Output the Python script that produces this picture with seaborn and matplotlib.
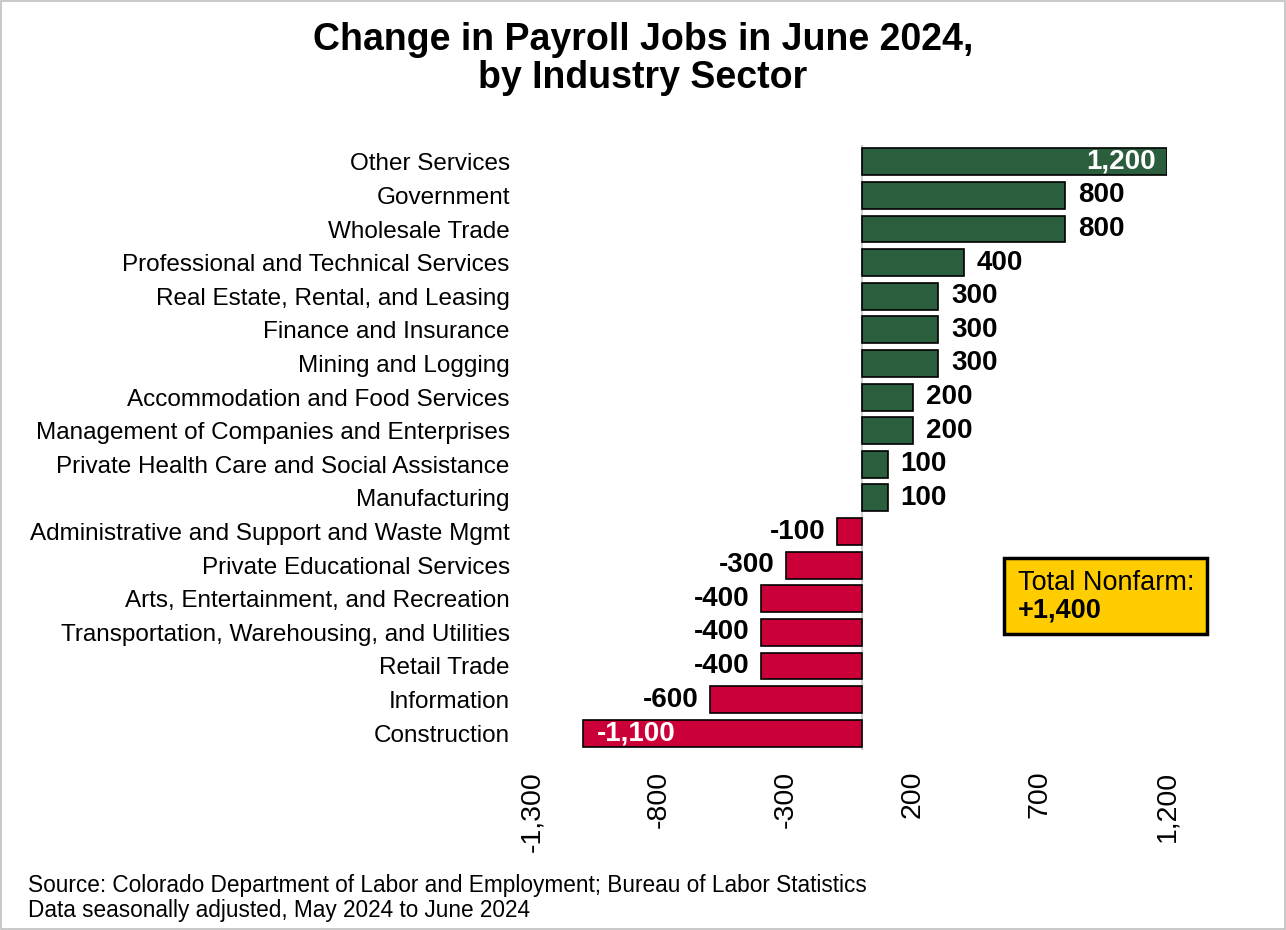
import matplotlib
matplotlib.use("Agg")
import matplotlib.pyplot as plt
import seaborn as sns
import pandas as pd
from matplotlib.patches import Rectangle

sectors = [
    "Other Services", "Government", "Wholesale Trade",
    "Professional and Technical Services", "Real Estate, Rental, and Leasing",
    "Finance and Insurance", "Mining and Logging",
    "Accommodation and Food Services", "Management of Companies and Enterprises",
    "Private Health Care and Social Assistance", "Manufacturing",
    "Administrative and Support and Waste Mgmt", "Private Educational Services",
    "Arts, Entertainment, and Recreation",
    "Transportation, Warehousing, and Utilities", "Retail Trade",
    "Information", "Construction",
]
changes = [1200, 800, 800, 400, 300, 300, 300, 200, 200, 100, 100,
           -100, -300, -400, -400, -400, -600, -1100]
x_ticks = [-1300, -800, -300, 200, 700, 1200]
total_label = "+1,400"

sns.set_theme(style="white")
plt.rcParams['font.family'] = ['Liberation Sans', 'DejaVu Sans']
plt.rcParams['text.color'] = 'black'
plt.rcParams['xtick.color'] = 'black'
plt.rcParams['ytick.color'] = 'black'

df = pd.DataFrame({"sector": sectors, "change": changes})
df["sign"] = ["pos" if v > 0 else "neg" for v in df["change"]]

fig = plt.figure(figsize=(12.86, 9.30), dpi=100)
ax = fig.add_axes([532 / 1286, 1 - 750 / 930, 635 / 1286, 605 / 930])

sns.barplot(data=df, x="change", y="sector", hue="sign",
            palette={"pos": "#2a5e3c", "neg": "#cc0038"}, saturation=1,
            edgecolor="black", linewidth=1.2, width=0.8,
            dodge=False, legend=False, ax=ax)

ax.set_xlim(-1300, 1200)
ax.set_xticks(x_ticks)
ax.set_xticklabels([f"{t:,}" for t in x_ticks], rotation=90, fontsize=20.5)
ax.tick_params(axis="y", labelsize=17.5, length=0, pad=16)
ax.tick_params(axis="x", length=0, pad=15)
ax.set_xlabel("")
ax.set_ylabel("")
for s in ax.spines.values():
    s.set_visible(False)
ax.axvline(0, color="#d0d0d0", lw=1.5, zorder=0)

for i, v in enumerate(changes):
    txt = f"{v:,}"
    if v >= 1200:
        ax.text(v - 45, i, txt, ha="right", va="center", color="white",
                fontsize=20, fontweight="bold")
    elif v <= -1100:
        ax.text(v + 55, i, txt, ha="left", va="center", color="white",
                fontsize=20, fontweight="bold")
    elif v > 0:
        ax.text(v + 50, i, txt, ha="left", va="center", color="black",
                fontsize=20, fontweight="bold")
    else:
        ax.text(v - 45, i, txt, ha="right", va="center", color="black",
                fontsize=20, fontweight="bold")

fig.text(0.5, 1 - 59 / 930, "Change in Payroll Jobs in June 2024,\nby Industry Sector",
         ha="center", va="center", fontsize=27, fontweight="bold",
         linespacing=1.1)

fig.patches.append(Rectangle((1004 / 1286, 1 - 634 / 930), 203 / 1286, 76 / 930,
                             transform=fig.transFigure, facecolor="#ffcc00",
                             edgecolor="black", linewidth=2.5))
fig.text(1018 / 1286, 1 - 583 / 930, "Total Nonfarm:", fontsize=19.5,
         va="center", ha="left")
fig.text(1018 / 1286, 1 - 611 / 930, total_label, fontsize=19.5,
         fontweight="bold", va="center", ha="left")

fig.text(28 / 1286, 1 - 885 / 930, "Source: Colorado Department of Labor and Employment; Bureau of Labor Statistics",
         fontsize=16.3, va="center", ha="left")
fig.text(28 / 1286, 1 - 910 / 930, "Data seasonally adjusted, May 2024 to June 2024",
         fontsize=16.3, va="center", ha="left")

fig.patches.append(Rectangle((0.001, 0.001), 0.998, 0.998, transform=fig.transFigure,
                             facecolor="none", edgecolor="#bfbfbf", linewidth=1.2))

fig.savefig("out.png", dpi=100)
